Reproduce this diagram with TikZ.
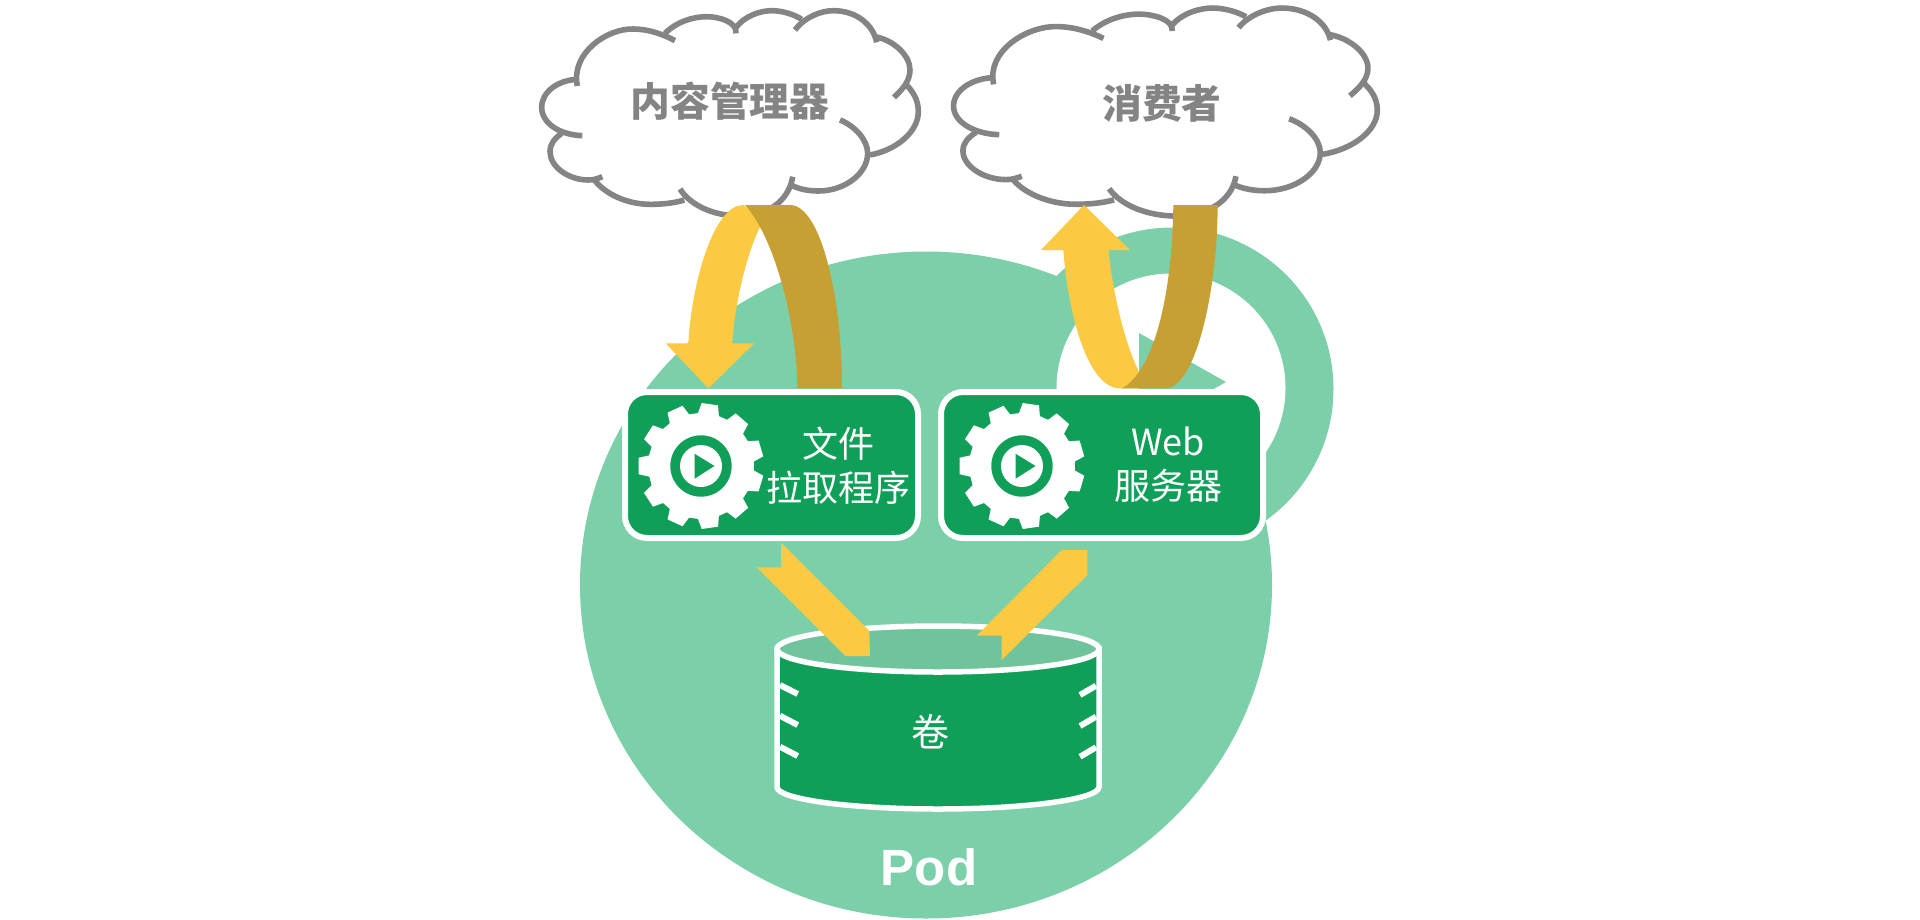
\documentclass[tikz,border=0pt]{standalone}
\usepackage{fontspec}
\setmainfont{Noto Sans CJK SC}
\newfontfamily\podfont{Liberation Sans}
\definecolor{podgreen}{HTML}{7BCFA9}
\definecolor{boxgreen}{HTML}{109F58}
\definecolor{topgreen}{HTML}{6FC49B}
\definecolor{goldlight}{HTML}{FBC942}
\definecolor{golddark}{HTML}{C6A033}
\definecolor{cloudgray}{HTML}{848484}
\tikzset{
  boxshape/.style={draw=white,line width=6pt,fill=boxgreen,rounded corners=22pt},
  cloudline/.style={draw=cloudgray,line width=5.6pt},
  cloudtext/.style={text=cloudgray,font=\fontsize{39.8}{44}\selectfont\bfseries,inner sep=0pt},
  boxtext/.style={text=white,font=\fontsize{36}{44}\selectfont,align=center,inner sep=0pt},
  tickline/.style={draw=white,line width=6pt},
  zoomone/.style={x=0.33333pt,y=-0.33333pt,shift={(500pt,0pt)}},
  zoomtwo/.style={x=0.33333pt,y=-0.33333pt,shift={(920pt,0pt)}},
  zoomfive/.style={x=0.33333pt,y=-0.33333pt,shift={(740pt,-540pt)}},
  gearpic/.pic={
    \fill[white] (180-8:53)
      \foreach \k in {0,...,10}{
        -- ({180+\k*360/11-11.5}:53) -- ({180+\k*360/11-7.5}:63)
        -- ({180+\k*360/11+7.5}:63) -- ({180+\k*360/11+11.5}:53)
      } -- cycle;
    \fill[boxgreen] (0,0) circle[radius=30.7pt];
    \fill[white] (0,0) circle[radius=21pt];
    \fill[boxgreen] (-6.5,-12.3) -- (13.5,0) -- (-6.5,12.7) -- cycle;
  },
  cloudpic/.pic={
    \path[cloudline] (232,258) .. controls (212,160) and (320,85) .. (400,87) .. controls (445,87) and (490,103) .. (525,122);
    \path[cloudline] (495,100) .. controls (530,65) and (580,50) .. (620,50) .. controls (655,50) and (712,65) .. (708,100);
    \path[cloudline] (706,85) .. controls (735,45) and (785,32) .. (815,32) .. controls (850,32) and (885,45) .. (905,58);
    \path[cloudline] (885,90) .. controls (915,50) and (965,32) .. (1000,32) .. controls (1070,32) and (1120,75) .. (1130,127);
    \path[cloudline] (1125,110) .. controls (1180,120) and (1230,165) .. (1230,210) .. controls (1230,245) and (1205,270) .. (1182,292);
    \path[cloudline] (1215,250) .. controls (1240,275) and (1255,300) .. (1255,335) .. controls (1255,395) and (1190,450) .. (1110,465);
    \path[cloudline] (1020,360) .. controls (1065,378) and (1103,420) .. (1103,460) .. controls (1103,520) and (1035,573) .. (955,573) .. controls (925,573) and (895,567) .. (873,555);
    \path[cloudline] (878,530) .. controls (870,585) and (825,645) .. (720,648) .. controls (640,648) and (570,615) .. (540,567);
    \path[cloudline] (553,600) .. controls (520,610) and (485,613) .. (450,613) .. controls (380,613) and (310,580) .. (280,535);
    \path[cloudline] (307,530) .. controls (290,537) and (280,540) .. (265,540) .. controls (205,540) and (150,500) .. (150,455) .. controls (150,430) and (165,415) .. (185,400);
    \path[cloudline] (247,407) .. controls (180,405) and (125,370) .. (125,322) .. controls (125,275) and (175,240) .. (232,238);
  }
}
\begin{document}
\begin{tikzpicture}[x=1pt,y=-1pt]
\useasboundingbox (0,0) rectangle (1920,919);
% Pod body and restart ring
\fill[podgreen] (926,585) ellipse[x radius=346pt,y radius=333.5pt];
\fill[podgreen] (1172,389) circle[radius=161.5pt];
\fill[white] (1171,388) circle[radius=114.5pt];
\fill[podgreen] (1139,333) -- (1226,382) -- (1139,431) -- cycle;
% clouds
\begin{scope}[x=0.33333pt,y=-0.33333pt,shift={(500pt,0pt)}]
  \pic {cloudpic};
\end{scope}
\begin{scope}[x=0.375pt,y=-0.3377pt,shift={(906.67pt,2.77pt)}]
  \pic {cloudpic};
\end{scope}
\node[cloudtext] (cloudA) at (730,101) {内容管理器};
\node[cloudtext] (cloudB) at (1162,103) {消费者};
% containers
\draw[boxshape] (625,392) rectangle (918,538);
\draw[boxshape] (941,392) rectangle (1263,538);
\pic at (701,466) {gearpic};
\pic at (1022,466) {gearpic};
\node[boxtext] (puller) at (838,465.5) {文件\\拉取程序};
\node[boxtext] (web) at (1168,465) {Web\\服务器};
% volume
\path[fill=boxgreen,draw=white,line width=5.5pt] (777,649) -- (777,787) arc[start angle=180,end angle=360,x radius=161pt,y radius=22pt] -- (1099,649) -- cycle;
\path[fill=topgreen,draw=white,line width=5.5pt] (938,649) ellipse[x radius=161pt,y radius=23pt];
\draw[tickline] (780,685) -- (797.7,694);
\draw[tickline] (780,715.7) -- (797.7,725);
\draw[tickline] (780,746.7) -- (797.7,756);
\draw[tickline] (1096,685.7) -- (1080,695);
\draw[tickline] (1096,716.7) -- (1080,726);
\draw[tickline] (1096,747.3) -- (1080,756.7);
\node[boxtext,font=\fontsize{38}{40}\selectfont] (vol) at (930,732) {卷};
\node[text=white,inner sep=0pt,font=\podfont\fontsize{51}{54}\selectfont\bfseries] (pod) at (929,867) {Pod};
% arrows
\begin{scope}[zoomone]
  \fill[goldlight] (497,1030) -- (565,1030) .. controls (575,850) and (640,615) .. (730,615) -- (790,662) .. controls (745,740) and (705,900) .. (697,1030) -- (763,1030) -- (625,1165) -- cycle;
  \fill[golddark] (735,615) -- (870,615) .. controls (960,615) and (1026,880) .. (1026,1165) -- (892,1165) .. controls (892,990) and (830,720) .. (735,615) -- cycle;
\end{scope}
\begin{scope}[zoomtwo]
  \fill[goldlight] (492,615) -- (630,750) -- (565,750) .. controls (580,880) and (610,1020) .. (658,1118) -- (660,1165) -- (600,1165) .. controls (505,1165) and (445,950) .. (430,750) -- (363,750) -- cycle;
  \fill[golddark] (760,615) -- (893,615) .. controls (893,860) and (830,1165) .. (735,1165) -- (605,1165) .. controls (680,1130) and (755,950) .. (760,615) -- cycle;
\end{scope}
\begin{scope}[zoomfive]
  \fill[goldlight] (123,8) -- (388,272) -- (390,348) -- (316,348) -- (50,82) -- (123,82) -- cycle;
  \fill[goldlight] (965,30) -- (1042,30) -- (1042,105) -- (785,360) -- (785,287) -- (710,287) -- cycle;
\end{scope}
\end{tikzpicture}
\end{document}
